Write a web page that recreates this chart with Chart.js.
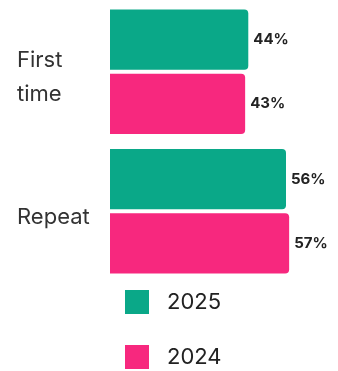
<!DOCTYPE html>
<html>
<head>
<meta charset="utf-8">
<script src="https://cdn.jsdelivr.net/npm/chart.js@4.4.1/dist/chart.umd.min.js"></script>
<style>
    html, body { margin: 0; padding: 0; background: #fff; }
    #wrap { width: 338px; height: 371px; }
</style>
</head>
<body>
<div id="wrap"><canvas id="canvas-visites"></canvas></div>
<script>
'use strict';

/* global Chart */

// Catégories et valeurs (en %)
const categories = [['First', 'time'], 'Repeat'];
const annees = ['2025', '2024'];
const valeurs2025 = [44, 56];
const valeurs2024 = [43, 57];
const couleurs = ['#0aa888', '#f7287e'];

// Affiche la valeur au bout de chaque barre
const etiquettesValeurs = {
    id: 'etiquettesValeurs',
    afterDatasetsDraw(chart) {
        const ctx = chart.ctx;
        ctx.save();
        ctx.font = 'bold 15px Inter';
        ctx.fillStyle = '#222';
        ctx.textAlign = 'left';
        ctx.textBaseline = 'middle';
        chart.data.datasets.forEach((ds, i) => {
            chart.getDatasetMeta(i).data.forEach((barre, j) => {
                ctx.fillText(ds.data[j] + '%', barre.x + 5, barre.y);
            });
        });
        ctx.restore();
    }
};

// Légende verticale sous le graphique
const legendeVerticale = {
    id: 'legendeVerticale',
    afterDraw(chart) {
        const ctx = chart.ctx;
        const haut = chart.chartArea.bottom + 9;
        ctx.save();
        ctx.font = '22px Inter';
        ctx.textAlign = 'left';
        ctx.textBaseline = 'middle';
        chart.data.datasets.forEach((ds, i) => {
            const y = haut + i * 55;
            ctx.fillStyle = ds.backgroundColor;
            ctx.fillRect(125, y, 24, 24);
            ctx.fillStyle = '#222';
            ctx.fillText(ds.label, 167, y + 12);
        });
        ctx.restore();
    }
};

document.addEventListener('DOMContentLoaded', function () {
    const ctx = document.getElementById('canvas-visites').getContext('2d');

    const dataChartJs = {
        labels: categories,
        datasets: [
            {
                label: annees[0],
                data: valeurs2025,
                backgroundColor: couleurs[0],
                borderRadius: 4,
                barPercentage: 0.9375,
                categoryPercentage: 0.92
            },
            {
                label: annees[1],
                data: valeurs2024,
                backgroundColor: couleurs[1],
                borderRadius: 4,
                barPercentage: 0.9375,
                categoryPercentage: 0.92
            }
        ]
    };

    const optionsChartJs = {
        indexAxis: 'y',
        responsive: true,
        maintainAspectRatio: false,
        animation: false,
        layout: {
            padding: { top: 2, bottom: 90, left: 17, right: 8 }
        },
        plugins: {
            legend: { display: false },
            tooltip: { enabled: false }
        },
        scales: {
            x: {
                display: false,
                min: 0,
                max: 70
            },
            y: {
                grid: { display: false },
                border: { display: false },
                afterFit(scale) {
                    // largeur fixe de l'axe, sans marge verticale pour les libellés
                    scale.width = 93;
                    scale.paddingTop = 0;
                    scale.paddingBottom = 0;
                },
                ticks: {
                    crossAlign: 'far',
                    labelOffset: 6,
                    color: '#333',
                    font: { family: 'Inter', size: 22, lineHeight: 1.55 }
                }
            }
        }
    };

    // eslint-disable-next-line no-unused-vars
    let diagChartJs = new Chart(ctx, {
        type: 'bar',
        data: dataChartJs,
        options: optionsChartJs,
        plugins: [etiquettesValeurs, legendeVerticale]
    });
});
</script>
</body>
</html>
